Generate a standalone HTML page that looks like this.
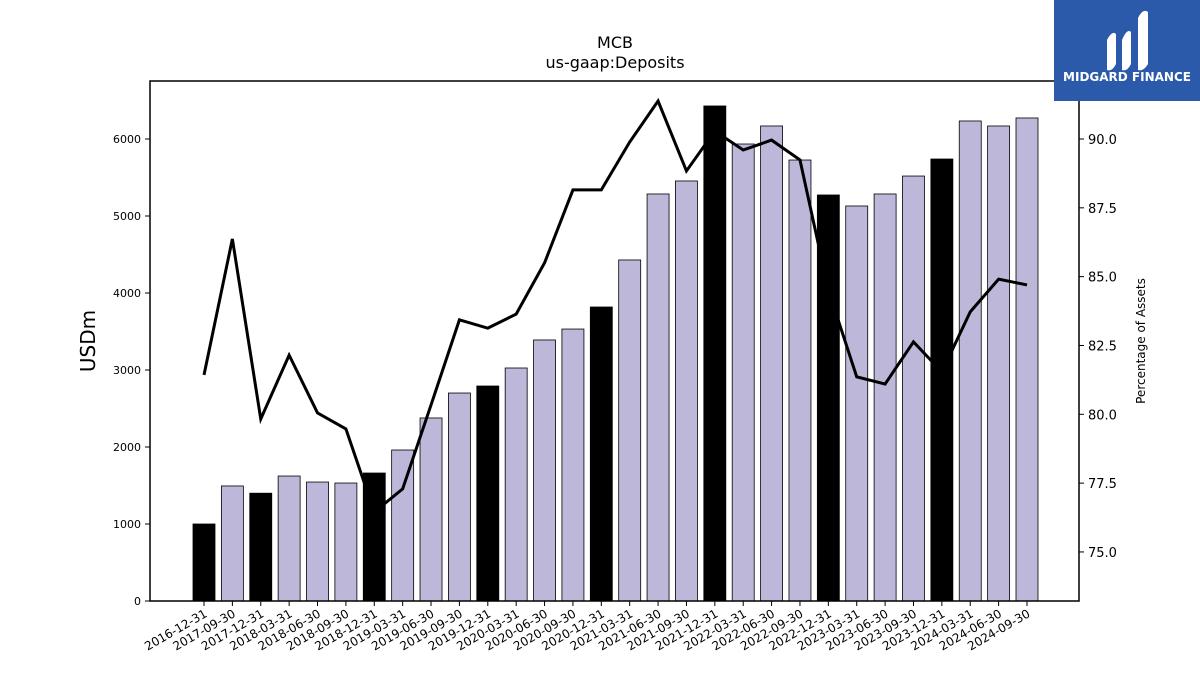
<!DOCTYPE html>
<html><head><meta charset="utf-8"><style>
body{margin:0;background:#fff;font-family:"Liberation Sans","DejaVu Sans",sans-serif}
</style></head><body>
<svg id="chart" width="1200" height="675" xmlns="http://www.w3.org/2000/svg" font-family="DejaVu Sans, Liberation Sans, sans-serif">
<text x="615" y="48" font-size="16" text-anchor="middle">MCB</text>
<text x="615" y="68" font-size="16" text-anchor="middle">us-gaap:Deposits</text>
<g id="bars"></g><g id="line"></g><g id="axes"></g>
<rect x="150" y="81" width="929" height="520" fill="none" stroke="#000" stroke-width="1.5"/>
<text transform="translate(95,341) rotate(-90)" font-size="20" text-anchor="middle">USDm</text>
<text transform="translate(1145,341) rotate(-90)" font-size="12" text-anchor="middle">Percentage of Assets</text>
<g>
<rect x="1054" y="0" width="146" height="101" fill="#2b5aab"/>
<path d="M1107 70 L1107 40 Q1112 30 1116 34 L1116 64 Q1112 72 1107 70Z M1122 70 L1122 40 Q1127 28 1131 32 L1131 64 Q1127 72 1122 70Z M1138 70 L1138 18 Q1143 8 1148 12 L1148 64 Q1143 72 1138 70Z" fill="#fff"/>
<text x="1127" y="81" font-size="12" font-weight="bold" fill="#fff" text-anchor="middle">MIDGARD FINANCE</text>
</g>
</svg>
<script>
const categories=["2016-12-31","2017-09-30","2017-12-31","2018-03-31","2018-06-30","2018-09-30","2018-12-31","2019-03-31","2019-06-30","2019-09-30","2019-12-31","2020-03-31","2020-06-30","2020-09-30","2020-12-31","2021-03-31","2021-06-30","2021-09-30","2021-12-31","2022-03-31","2022-06-30","2022-09-30","2022-12-31","2023-03-31","2023-06-30","2023-09-30","2023-12-31","2024-03-31","2024-06-30","2024-09-30"];
const deposits=[1000,1494,1400,1623,1545,1532,1662,1961,2377,2701,2792,3026,3390,3532,3818,4429,5286,5455,6429,5935,6169,5727,5273,5130,5286,5519,5740,6234,6169,6273];
const pctAssets=[81.43,86.37,79.83,82.15,80.05,79.47,76.45,77.29,80.34,83.43,83.13,83.64,85.50,88.15,88.15,89.89,91.38,88.84,90.29,89.60,89.96,89.24,84.52,81.36,81.10,82.63,81.54,83.72,84.91,84.70];
const leftTicks=[0,1000,2000,3000,4000,5000,6000];
const rightTicks=[75.0,77.5,80.0,82.5,85.0,87.5,90.0];
const NS="http://www.w3.org/2000/svg";
const yL=v=>601-v*0.077;
const yR=v=>139+(90-v)*27.53;
const xC=i=>204+i*(1027-204)/(categories.length-1);
function mk(t,a,p){const e=document.createElementNS(NS,t);for(const k in a)e.setAttribute(k,a[k]);p.appendChild(e);return e;}
const bars=document.getElementById('bars'),line=document.getElementById('line'),axes=document.getElementById('axes');
deposits.forEach((v,i)=>{
 const black=categories[i].endsWith("12-31");
 const r=mk('rect',{x:xC(i)-11,y:yL(v),width:22,height:601-yL(v),fill:black?'#000':'#bdb8d9',stroke:'#000','stroke-width':0.8},bars);
 
 
});
const pl=mk('polyline',{points:pctAssets.map((v,i)=>xC(i)+','+yR(v)).join(' '),fill:'none',stroke:'#000','stroke-width':3},line);


leftTicks.forEach(v=>{
 mk('line',{x1:145,x2:150,y1:yL(v),y2:yL(v),stroke:'#000'},axes);
 const t=mk('text',{x:141,y:yL(v)+4,'font-size':11,'text-anchor':'end'},axes);t.textContent=v;
 
 
});
rightTicks.forEach(v=>{
 mk('line',{x1:1079,x2:1084,y1:yR(v),y2:yR(v),stroke:'#000'},axes);
 const t=mk('text',{x:1088,y:yR(v)+5,'font-size':13},axes);t.textContent=v.toFixed(1);
 
 
});
categories.forEach((c,i)=>{
 mk('line',{x1:xC(i),x2:xC(i),y1:601,y2:606,stroke:'#000'},axes);
 const t=mk('text',{transform:`translate(${xC(i)+4},${616}) rotate(-30)`,'font-size':12,'text-anchor':'end'},axes);t.textContent=c;
 
 
});
</script>
</body></html>
